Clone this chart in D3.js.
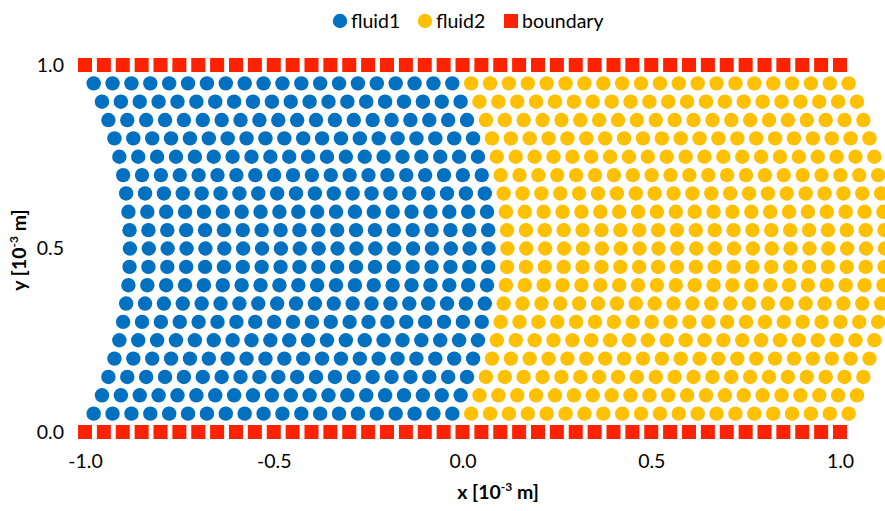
<!DOCTYPE html>
<html>
<head>
<meta charset="utf-8">
<script src="https://cdn.jsdelivr.net/npm/d3@7"></script>
<style>
  html, body { margin: 0; padding: 0; background: #fff; }
  svg { display: block; font-family: Lato, "Open Sans", sans-serif; }
</style>
</head>
<body>
<svg id="chart" width="885" height="511"></svg>
<script>
// Lattice columns (initial particle / wall positions along x, in 1e-3 m)
const gridX = [-1.00, -0.95, -0.90, -0.85, -0.80, -0.75, -0.70, -0.65, -0.60, -0.55,
               -0.50, -0.45, -0.40, -0.35, -0.30, -0.25, -0.20, -0.15, -0.10, -0.05,
                0.00,  0.05,  0.10,  0.15,  0.20,  0.25,  0.30,  0.35,  0.40,  0.45,
                0.50,  0.55,  0.60,  0.65,  0.70,  0.75,  0.80,  0.85,  0.90,  0.95, 1.00];
// Fluid particle rows (y, in 1e-3 m)
const rowY = [0.05, 0.10, 0.15, 0.20, 0.25, 0.30, 0.35, 0.40, 0.45, 0.50,
              0.55, 0.60, 0.65, 0.70, 0.75, 0.80, 0.85, 0.90, 0.95];
// Streamwise displacement of each row after advection (1e-3 m)
const rowShift = [0.023, 0.045, 0.062, 0.078, 0.091, 0.101, 0.109, 0.115, 0.118, 0.119,
                  0.118, 0.115, 0.109, 0.101, 0.091, 0.078, 0.062, 0.045, 0.023];
// Wall rows
const wallY = [0.0, 1.0];
// Tick labels
const xTicks = [-1.0, -0.5, 0.0, 0.5, 1.0];
const yTicks = [0.0, 0.5, 1.0];
const seriesNames = ["fluid1", "fluid2", "boundary"];

const colors = { fluid1: "#0070C0", fluid2: "#FFC000", boundary: "#FF2200" };
const FS = 19.5;

const svg = d3.select("#chart");
const x = d3.scaleLinear().domain([-1, 1]).range([85, 840]);
const y = d3.scaleLinear().domain([0, 1]).range([432, 65]);

// Build particle table
const particles = [];
rowY.forEach((yy, r) => {
  gridX.forEach(x0 => {
    particles.push({ x: x0 + rowShift[r], y: yy, type: x0 < 0 ? "fluid1" : "fluid2" });
  });
});
const walls = [];
wallY.forEach(yy => gridX.forEach(x0 => walls.push({ x: x0, y: yy })));

const R = 7.2, S = 14;

svg.append("g").selectAll("circle").data(particles).join("circle")
  .attr("cx", d => x(d.x)).attr("cy", d => y(d.y)).attr("r", R)
  .attr("fill", d => colors[d.type]);

svg.append("g").selectAll("rect").data(walls).join("rect")
  .attr("x", d => x(d.x) - S / 2).attr("y", d => y(d.y) - S / 2)
  .attr("width", S).attr("height", S)
  .attr("fill", colors.boundary);

// Axes (labels only)
const xAxis = svg.append("g").attr("transform", "translate(0,451)")
  .call(d3.axisBottom(x).tickValues(xTicks).tickFormat(d3.format(".1f")).tickSize(0));
xAxis.select(".domain").remove();
xAxis.selectAll("text").attr("font-size", FS).attr("font-family", "Lato, sans-serif")
  .attr("fill", "#000").text(d => d3.format(".1f")(d).replace("−", "-"));

const yAxis = svg.append("g").attr("transform", "translate(64,0)")
  .call(d3.axisLeft(y).tickValues(yTicks).tickFormat(d3.format(".1f")).tickSize(0));
yAxis.select(".domain").remove();
yAxis.selectAll("text").attr("font-size", FS).attr("font-family", "Lato, sans-serif")
  .attr("fill", "#000").attr("x", 0);

// Axis titles
function title(g, letter) {
  const t = g.append("text").attr("font-size", FS).attr("font-weight", "bold")
    .attr("text-anchor", "middle").attr("fill", "#000");
  t.append("tspan").text(letter + " [10");
  t.append("tspan").attr("font-size", 12).attr("dy", -8).text("-3");
  t.append("tspan").attr("dy", 8).text(" m]");
  return t;
}
title(svg.append("g").attr("transform", "translate(498,499)"), "x");
title(svg.append("g").attr("transform", "translate(26,250) rotate(-90)"), "y");

// Legend
const legend = svg.append("g").attr("font-size", FS);
const legendItems = [
  { name: seriesNames[0], cx: 340, shape: "circle" },
  { name: seriesNames[1], cx: 425, shape: "circle" },
  { name: seriesNames[2], cx: 511, shape: "rect" }
];
legendItems.forEach(it => {
  if (it.shape === "circle") {
    legend.append("circle").attr("cx", it.cx).attr("cy", 21).attr("r", R).attr("fill", colors[it.name]);
  } else {
    legend.append("rect").attr("x", it.cx - S / 2).attr("y", 21 - S / 2).attr("width", S).attr("height", S)
      .attr("fill", colors[it.name]);
  }
  legend.append("text").attr("x", it.cx + 11).attr("y", 21).attr("dy", "0.35em")
    .attr("fill", "#000").text(it.name);
});
</script>
</body>
</html>
